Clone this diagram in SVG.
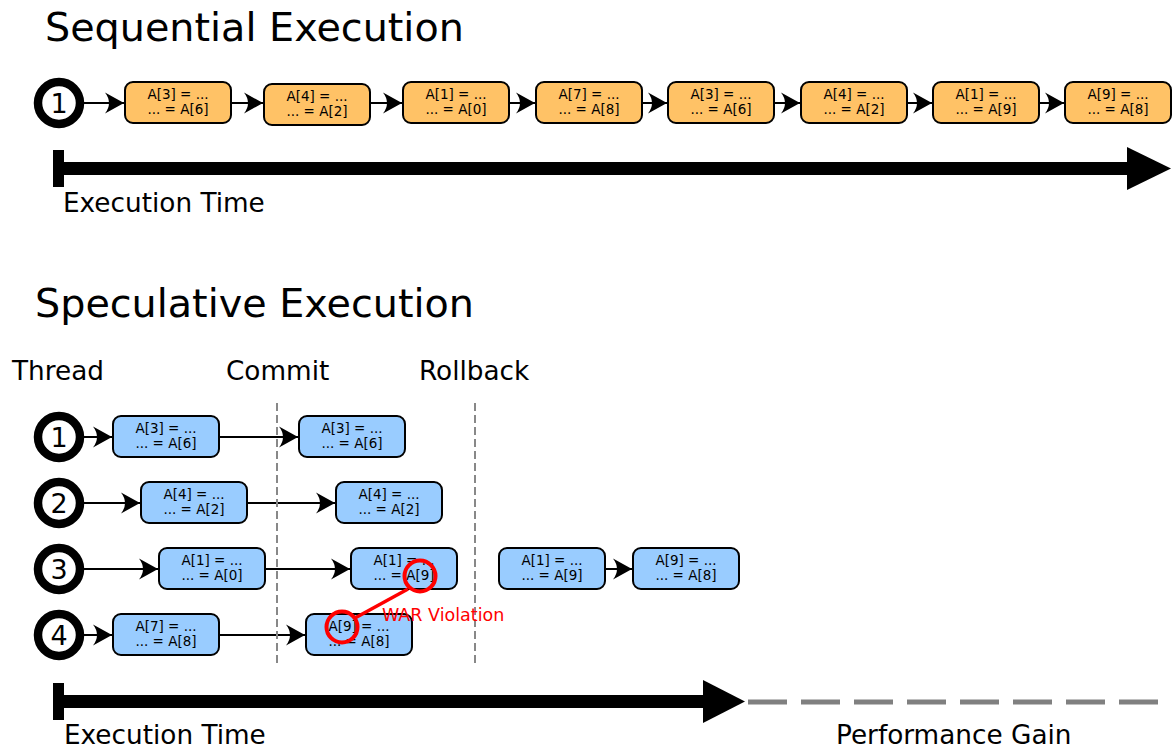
<svg xmlns="http://www.w3.org/2000/svg" width="1173" height="749" viewBox="0 0 1173 749">
<style>
text{font-family:"DejaVu Sans","Liberation Sans",sans-serif;fill:#000}
.title{font-size:39.7px}
.lbl{font-size:26.3px}
.num{font-size:27px;text-anchor:middle}
.bt{font-size:13.5px;text-anchor:middle}
.thr{fill:#fff;stroke:#000;stroke-width:8.5}
.bo{fill:#ffc266;stroke:#000;stroke-width:2}
.bb{fill:#99ccff;stroke:#000;stroke-width:2}
.con{stroke:#000;stroke-width:2;fill:none;marker-end:url(#ah)}
.dv{stroke:#888;stroke-width:2;stroke-dasharray:8,4}
.red{stroke:#ff0000;fill:none}
</style>
<defs>
<marker id="ah" markerUnits="userSpaceOnUse" viewBox="-21 -12 22 24" refX="0" refY="0" markerWidth="22" markerHeight="24" orient="auto" overflow="visible">
<path d="M0,0 L-19,-10.5 Q-11,0 -19,10.5 Z" fill="#000"/>
</marker>
</defs>
<rect width="1173" height="749" fill="#fff"/>

<text class="title" x="45" y="41">Sequential Execution</text>
<text class="title" x="35" y="317">Speculative Execution</text>
<text class="lbl" x="12" y="380">Thread</text>
<text class="lbl" x="226" y="380">Commit</text>
<text class="lbl" x="419" y="380">Rollback</text>
<text class="lbl" x="63" y="212">Execution Time</text>
<text class="lbl" x="64" y="744">Execution Time</text>
<text class="lbl" x="836" y="744">Performance Gain</text>

<g id="connectors">
<line class="con" x1="84" y1="103" x2="124" y2="103"/>
<line class="con" x1="231" y1="103" x2="263" y2="103"/>
<line class="con" x1="370" y1="103" x2="402" y2="103"/>
<line class="con" x1="509" y1="103" x2="535" y2="103"/>
<line class="con" x1="642" y1="103" x2="667" y2="103"/>
<line class="con" x1="774" y1="103" x2="800" y2="103"/>
<line class="con" x1="906" y1="103" x2="932" y2="103"/>
<line class="con" x1="1039" y1="103" x2="1064" y2="103"/>

<line class="con" x1="84" y1="437" x2="112" y2="437"/>
<line class="con" x1="219" y1="437" x2="298" y2="437"/>
<line class="con" x1="84" y1="503" x2="140" y2="503"/>
<line class="con" x1="247" y1="503" x2="335" y2="503"/>
<line class="con" x1="84" y1="569" x2="158" y2="569"/>
<line class="con" x1="266" y1="569" x2="350" y2="569"/>
<line class="con" x1="606" y1="569" x2="632" y2="569"/>
<line class="con" x1="84" y1="635" x2="112" y2="635"/>
<line class="con" x1="219" y1="635" x2="305" y2="635"/>
</g>

<g id="timeline-seq">
<rect x="53" y="150" width="11" height="37" fill="#000"/>
<rect x="59" y="162" width="1070" height="13" fill="#000"/>
<polygon points="1127,147 1171,168.5 1127,190" fill="#000"/>
</g>
<g id="timeline-spec">
<rect x="53" y="683" width="11" height="37" fill="#000"/>
<rect x="59" y="695" width="646" height="13" fill="#000"/>
<polygon points="703,680 745,701.5 703,723" fill="#000"/>
<line x1="748" y1="702" x2="1160" y2="702" stroke="#808080" stroke-width="5" stroke-dasharray="39,14"/>
</g>

<g id="dividers">
<line class="dv" x1="277" y1="403" x2="277" y2="664"/>
<line class="dv" x1="475" y1="403" x2="475" y2="664"/>
</g>

<g id="seq-thread1"><circle class="thr" cx="59" cy="103" r="21"/><text class="num" x="59" y="113">1</text></g>
<g id="seq-n1"><rect class="bo" x="125" y="82" width="106" height="41" rx="8"/><text class="bt" x="178" y="99">A[3] = ...</text><text class="bt" x="178" y="114">... = A[6]</text></g>
<g id="seq-n2"><rect class="bo" x="264" y="84" width="106" height="41" rx="8"/><text class="bt" x="317" y="101">A[4] = ...</text><text class="bt" x="317" y="116">... = A[2]</text></g>
<g id="seq-n3"><rect class="bo" x="403" y="82" width="106" height="41" rx="8"/><text class="bt" x="456" y="99">A[1] = ...</text><text class="bt" x="456" y="114">... = A[0]</text></g>
<g id="seq-n4"><rect class="bo" x="536" y="82" width="106" height="41" rx="8"/><text class="bt" x="589" y="99">A[7] = ...</text><text class="bt" x="589" y="114">... = A[8]</text></g>
<g id="seq-n5"><rect class="bo" x="668" y="82" width="106" height="41" rx="8"/><text class="bt" x="721" y="99">A[3] = ...</text><text class="bt" x="721" y="114">... = A[6]</text></g>
<g id="seq-n6"><rect class="bo" x="801" y="82" width="106" height="41" rx="8"/><text class="bt" x="854" y="99">A[4] = ...</text><text class="bt" x="854" y="114">... = A[2]</text></g>
<g id="seq-n7"><rect class="bo" x="933" y="82" width="106" height="41" rx="8"/><text class="bt" x="986" y="99">A[1] = ...</text><text class="bt" x="986" y="114">... = A[9]</text></g>
<g id="seq-n8"><rect class="bo" x="1065" y="82" width="106" height="41" rx="8"/><text class="bt" x="1118" y="99">A[9] = ...</text><text class="bt" x="1118" y="114">... = A[8]</text></g>

<g id="spec-thread1"><circle class="thr" cx="59" cy="437" r="21"/><text class="num" x="59" y="447">1</text></g>
<g id="spec-thread2"><circle class="thr" cx="59" cy="503" r="21"/><text class="num" x="59" y="513">2</text></g>
<g id="spec-thread3"><circle class="thr" cx="59" cy="569" r="21"/><text class="num" x="59" y="579">3</text></g>
<g id="spec-thread4"><circle class="thr" cx="59" cy="635" r="21"/><text class="num" x="59" y="645">4</text></g>

<g id="t1-a"><rect class="bb" x="113" y="416" width="106" height="41" rx="8"/><text class="bt" x="166" y="433">A[3] = ...</text><text class="bt" x="166" y="448">... = A[6]</text></g>
<g id="t1-b"><rect class="bb" x="299" y="416" width="106" height="41" rx="8"/><text class="bt" x="352" y="433">A[3] = ...</text><text class="bt" x="352" y="448">... = A[6]</text></g>
<g id="t2-a"><rect class="bb" x="141" y="482" width="106" height="41" rx="8"/><text class="bt" x="194" y="499">A[4] = ...</text><text class="bt" x="194" y="514">... = A[2]</text></g>
<g id="t2-b"><rect class="bb" x="336" y="482" width="106" height="41" rx="8"/><text class="bt" x="389" y="499">A[4] = ...</text><text class="bt" x="389" y="514">... = A[2]</text></g>
<g id="t3-a"><rect class="bb" x="159" y="548" width="106" height="41" rx="8"/><text class="bt" x="212" y="565">A[1] = ...</text><text class="bt" x="212" y="580">... = A[0]</text></g>
<g id="t3-b"><rect class="bb" x="351" y="548" width="106" height="41" rx="8"/><text class="bt" x="404" y="565">A[1] = ...</text><text class="bt" x="404" y="580">... = A[9]</text></g>
<g id="t3-c"><rect class="bb" x="499" y="548" width="106" height="41" rx="8"/><text class="bt" x="552" y="565">A[1] = ...</text><text class="bt" x="552" y="580">... = A[9]</text></g>
<g id="t3-d"><rect class="bb" x="633" y="548" width="106" height="41" rx="8"/><text class="bt" x="686" y="565">A[9] = ...</text><text class="bt" x="686" y="580">... = A[8]</text></g>
<g id="t4-a"><rect class="bb" x="113" y="614" width="106" height="41" rx="8"/><text class="bt" x="166" y="631">A[7] = ...</text><text class="bt" x="166" y="646">... = A[8]</text></g>
<g id="t4-b"><rect class="bb" x="306" y="614" width="106" height="41" rx="8"/><text class="bt" x="359" y="631">A[9] = ...</text><text class="bt" x="359" y="646">... = A[8]</text></g>

<g id="war">
<circle class="red" cx="420" cy="576" r="15.5" stroke-width="4"/>
<circle class="red" cx="342" cy="627" r="15.5" stroke-width="4"/>
<line class="red" x1="408" y1="589" x2="355" y2="618" stroke-width="3.5"/>
<text x="382" y="621" font-size="17.5" style="fill:#ff0000">WAR Violation</text>
</g>
</svg>
